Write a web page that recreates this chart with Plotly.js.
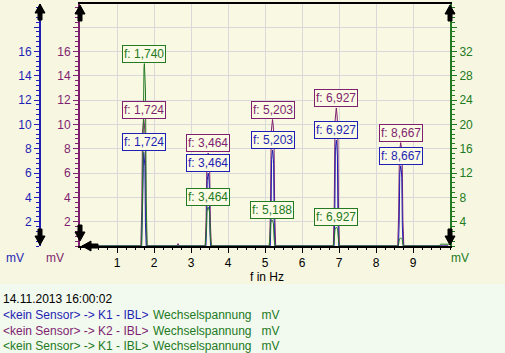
<!DOCTYPE html>
<html><head><meta charset="utf-8">
<script src="https://cdn.plot.ly/plotly-3.0.1.min.js"></script>
<style>html,body{margin:0;padding:0;background:#f7f7e1;}#plot{width:505px;height:353px;}</style>
</head><body><div id="plot"></div>
<script>
// ---- data ----
const blueF = [0.05,
  1.664,1.684,1.699,1.719,1.724,1.739,1.754,1.769,1.789,
  3.404,3.424,3.439,3.459,3.464,3.479,3.494,3.509,3.529,
  5.143,5.163,5.178,5.198,5.203,5.218,5.233,5.248,5.268,
  6.867,6.887,6.902,6.922,6.927,6.942,6.957,6.972,6.992,
  8.607,8.627,8.642,8.662,8.667,8.682,8.697,8.712,8.732,
  9.95];
const blueV = [0,
  0,2.31,6.93,7.55,7.7,7.32,6.55,1.93,0,
  0,1.8,5.4,5.88,6.0,5.7,5.1,1.5,0,
  0,2.37,7.11,7.74,7.9,7.5,6.72,1.98,0,
  0,2.61,7.83,8.53,8.7,8.27,7.4,2.18,0,
  0,1.98,5.94,6.47,6.6,6.27,5.61,1.65,0,
  0];
const purpleF = [0.05,
  1.644,1.669,1.689,1.714,1.724,1.744,1.764,1.784,1.809,
  2.62,2.65,2.68,
  3.384,3.409,3.429,3.454,3.464,3.484,3.504,3.524,3.549,
  5.123,5.148,5.168,5.193,5.203,5.223,5.243,5.263,5.288,
  6.847,6.872,6.892,6.917,6.927,6.947,6.967,6.987,7.012,
  8.587,8.612,8.632,8.657,8.667,8.687,8.707,8.727,8.752,
  9.95];
const purpleV = [0,
  0,3.12,9.36,10.19,10.4,9.88,8.84,2.6,0,
  0,0.2,0,
  0,2.3,6.89,7.5,7.65,7.27,6.5,1.91,0,
  0,3.12,9.36,10.19,10.4,9.88,8.84,2.6,0,
  0,3.41,10.22,11.12,11.35,10.78,9.65,2.84,0,
  0,2.55,7.65,8.33,8.5,8.08,7.23,2.13,0,
  0];
const greenF = [0.05,
  1.665,1.69,1.71,1.73,1.74,1.755,1.77,1.79,1.815,
  3.384,3.409,3.429,3.454,3.464,3.484,3.504,3.524,3.549,
  5.108,5.133,5.153,5.178,5.188,5.208,5.228,5.248,5.273,
  6.847,6.872,6.892,6.917,6.927,6.947,6.967,6.987,7.012,
  8.587,8.612,8.632,8.657,8.667,8.687,8.707,8.727,8.752,
  9.70,9.75,9.99];
const greenV = [0,
  0,9,27,29.4,30,28.5,25.5,7.5,0,
  0,1.92,5.76,6.27,6.4,6.08,5.44,1.6,0,
  0,1.29,3.87,4.21,4.3,4.09,3.66,1.08,0,
  0,0.93,2.79,3.04,3.1,2.95,2.64,0.78,0,
  0,0.39,1.17,1.27,1.3,1.24,1.1,0.33,0,
  0,0.3,0.3];

// labelled peaks
const bluePeakF = [1.724, 3.464, 5.203, 6.927, 8.667];
const bluePeakV = [7.7, 6.0, 7.9, 8.7, 6.6];
const purplePeakF = [1.724, 3.464, 5.203, 6.927, 8.667];
const purplePeakV = [10.4, 7.65, 10.4, 11.35, 8.5];
const greenPeakF = [1.740, 3.464, 5.188, 6.927];
const greenPeakV = [30, 6.4, 4.3, 3.1];

const xTicks = [1,2,3,4,5,6,7,8,9];
const leftTicks = [2,4,6,8,10,12,14,16,18];
const leftTickText = ['2','4','6','8','10','12','14','16',''];
const rightTicks = [4,8,12,16,20,24,28,32,36];
const rightTickText = ['4','8','12','16','20','24','28','32',''];

const dateText = '14.11.2013 16:00:02';
const seriesNames = ['<kein Sensor> -> K1 - IBL>', '<kein Sensor> -> K2 - IBL>', '<kein Sensor> -> K1 - IBL>'];
const seriesUnit = 'Wechselspannung\u00a0\u00a0\u00a0mV';

// ---- style ----
const BLUE = '#1f1fb4', PURPLE = '#7f1f6f', GREEN = '#237a23';
const FONT = 'Liberation Sans, Arial, sans-serif';
const L = 30, R = 55, T = 4, B = 107, W = 505, H = 353;
const PW = W - L - R, PH = H - T - B;
const X = px => (px - L) / PW;
const Y = py => (H - B - py) / PH;

const traces = [
  {x: blueF, y: blueV, yaxis: 'y2', type: 'scatter', mode: 'lines', line: {color: BLUE, width: 1}},
  {x: purpleF, y: purpleV, yaxis: 'y', type: 'scatter', mode: 'lines', line: {color: PURPLE, width: 1}},
  {x: greenF, y: greenV, yaxis: 'y3', type: 'scatter', mode: 'lines', line: {color: GREEN, width: 1}}
];

const fmt = f => 'f: ' + f.toFixed(3).replace('.', ',');
const annotations = [];
function peakLabels(fs, vs, yref, color) {
  fs.forEach((f, i) => annotations.push({
    x: f, y: vs[i], xref: 'x', yref: yref, text: fmt(f), showarrow: false,
    xanchor: 'center', yanchor: 'bottom', yshift: 1,
    font: {family: FONT, size: 12, color: color},
    bgcolor: '#fbfbe6', bordercolor: color, borderwidth: 1, borderpad: 1
  }));
}
peakLabels(bluePeakF, bluePeakV, 'y2', BLUE);
peakLabels(purplePeakF, purplePeakV, 'y', PURPLE);
peakLabels(greenPeakF, greenPeakV, 'y3', GREEN);

function txt(text, px, py, color, anchor) {
  annotations.push({x: X(px), y: Y(py), xref: 'paper', yref: 'paper', text: text, showarrow: false,
    xanchor: anchor || 'left', yanchor: 'middle', font: {family: FONT, size: 12, color: color}});
}
txt('mV', 15, 258, BLUE, 'center');
txt('mV', 55, 258, PURPLE, 'center');
txt('mV', 460, 258, GREEN, 'center');
txt('f in Hz', 267, 277, '#000', 'center');
txt(dateText, 1, 299, '#000');
const lineCols = [BLUE, PURPLE, GREEN];
seriesNames.forEach((n, i) => {
  txt(n, 1, 315 + i * 15.5, lineCols[i]);
  txt(seriesUnit, 151, 315 + i * 15.5, GREEN);
});

// arrows in pixel space -> paper
function pathFrom(pts) {
  return 'M ' + pts.map(p => X(p[0]) + ',' + Y(p[1])).join(' L ') + ' Z';
}
function upArrow(cx, ty) {
  return pathFrom([[cx, ty], [cx + 5, ty + 9], [cx + 2, ty + 9], [cx + 2, ty + 16], [cx - 2, ty + 16], [cx - 2, ty + 9], [cx - 5, ty + 9]]);
}
function downArrow(cx, ty) {
  return pathFrom([[cx, ty], [cx + 5, ty - 9], [cx + 2, ty - 9], [cx + 2, ty - 16], [cx - 2, ty - 16], [cx - 2, ty - 9], [cx - 5, ty - 9]]);
}
function leftArrow(tx, cy) {
  return pathFrom([[tx, cy], [tx + 9, cy - 5], [tx + 9, cy - 2], [tx + 16, cy - 2], [tx + 16, cy + 2], [tx + 9, cy + 2], [tx + 9, cy + 5]]);
}
const shapes = [
  {type: 'rect', xref: 'paper', yref: 'paper', x0: X(0), x1: X(W), y0: Y(H), y1: Y(284), fillcolor: '#f2f9ef', line: {width: 0}, layer: 'below'}
];
[upArrow(40, 4), upArrow(80, 5), upArrow(450, 5), downArrow(40, 245), downArrow(80, 241), downArrow(450, 245), leftArrow(82, 246)]
  .forEach(p => shapes.push({type: 'path', xref: 'paper', yref: 'paper', path: p, fillcolor: '#000', line: {color: '#000', width: 1}}));

const tf = c => ({family: FONT, size: 12, color: c});
const layout = {
  width: W, height: H,
  margin: {l: L, r: R, t: T, b: B, pad: 0},
  paper_bgcolor: '#f7f7e1', plot_bgcolor: '#f9f9e3',
  showlegend: false,
  xaxis: {domain: [X(80), 1], range: [0, 10], anchor: 'y', tickmode: 'array', tickvals: xTicks,
    ticks: 'outside', ticklen: 5, tickcolor: '#000', tickfont: tf('#000'),
    showline: true, linecolor: '#000', linewidth: 2, mirror: true,
    showgrid: true, gridcolor: '#d9d9d9', gridwidth: 1, zeroline: false,
    minor: {tick0: 0, dtick: 0.25, ticklen: 2, tickcolor: '#000', showgrid: false}},
  yaxis: {range: [0, 19.9], anchor: 'x', side: 'left', tickmode: 'array', tickvals: leftTicks, ticktext: leftTickText,
    ticks: 'outside', ticklen: 5, tickcolor: PURPLE, tickfont: tf(PURPLE),
    showline: true, linecolor: PURPLE, linewidth: 2,
    showgrid: true, gridcolor: '#d9d9d9', gridwidth: 1, zeroline: false,
    minor: {tick0: 0, dtick: 0.4, ticklen: 3, tickcolor: PURPLE, showgrid: false}},
  yaxis2: {range: [0, 19.9], overlaying: 'y', anchor: 'free', position: X(40), side: 'left',
    tickmode: 'array', tickvals: leftTicks, ticktext: leftTickText,
    ticks: 'outside', ticklen: 5, tickcolor: BLUE, tickfont: tf(BLUE),
    showline: true, linecolor: BLUE, linewidth: 2, showgrid: false, zeroline: false,
    minor: {tick0: 0, dtick: 0.4, ticklen: 3, tickcolor: BLUE, showgrid: false}},
  yaxis3: {range: [0, 39.8], overlaying: 'y', anchor: 'x', side: 'right',
    tickmode: 'array', tickvals: rightTicks, ticktext: rightTickText,
    ticks: 'outside', ticklen: 5, tickcolor: GREEN, tickfont: tf(GREEN),
    showline: true, linecolor: GREEN, linewidth: 2, showgrid: false, zeroline: false,
    minor: {tick0: 0, dtick: 0.8, ticklen: 3, tickcolor: GREEN, showgrid: false}},
  annotations: annotations,
  shapes: shapes
};
Plotly.newPlot('plot', traces, layout, {staticPlot: true, displayModeBar: false});
</script></body></html>
